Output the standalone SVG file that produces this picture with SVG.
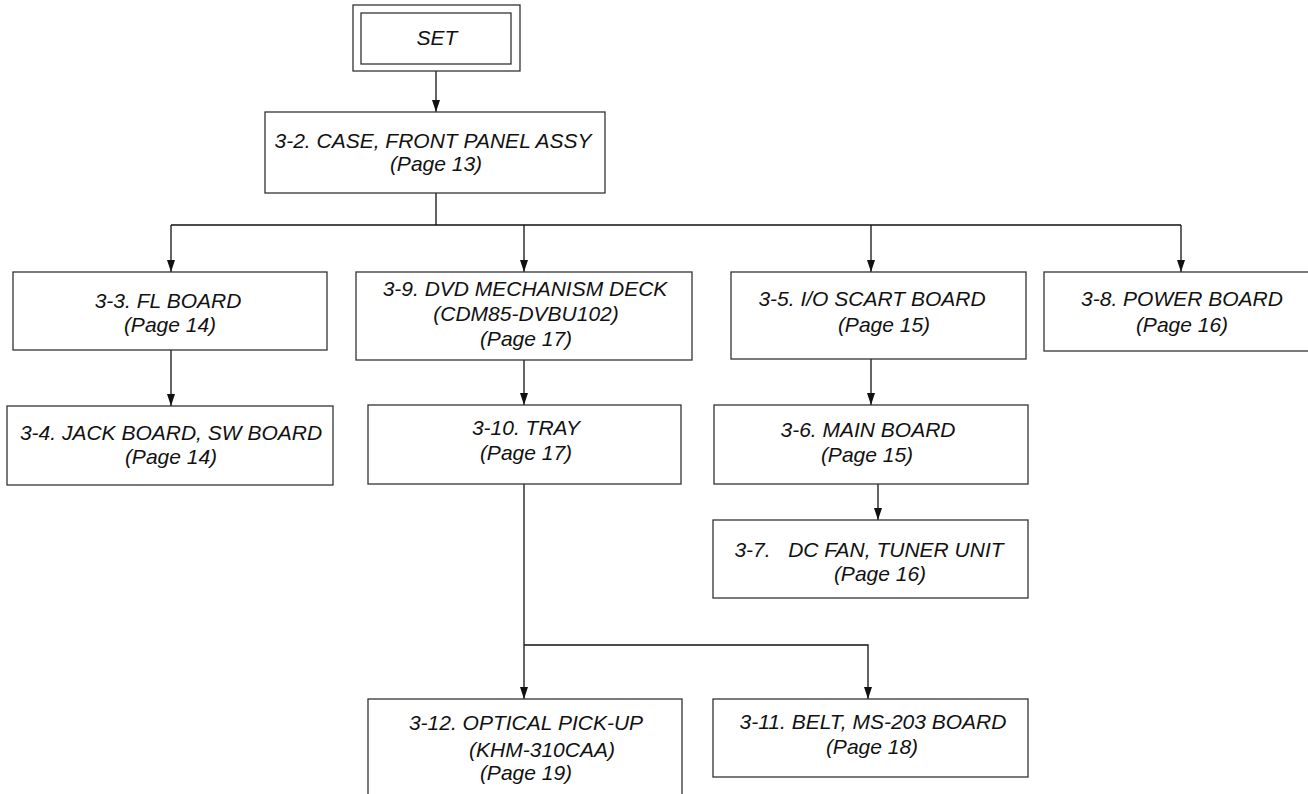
<svg xmlns="http://www.w3.org/2000/svg" width="1308" height="794" viewBox="0 0 1308 794">
<style>
.box{fill:#fff;stroke:#333;stroke-width:1.3}
.t{font-family:"Liberation Sans",Arial,sans-serif;font-style:italic;font-size:21px;fill:#111;text-anchor:middle}
.c{fill:none;stroke:#111;stroke-width:1.3}
</style>
<defs>
<marker id="ah" viewBox="0 0 12 8" refX="12" refY="4" markerWidth="12" markerHeight="8" markerUnits="userSpaceOnUse" orient="auto">
<path d="M0,0 L12,4 L0,8 z" fill="#111"/>
</marker>
</defs>
<rect width="1308" height="794" fill="#fff"/>
<g id="connectors">
<path class="c" d="M436,71 V112" marker-end="url(#ah)"/>
<path class="c" d="M436,193 V225 M171,225 H1181"/>
<path class="c" d="M171,225 V272" marker-end="url(#ah)"/>
<path class="c" d="M524,225 V272" marker-end="url(#ah)"/>
<path class="c" d="M871,225 V272" marker-end="url(#ah)"/>
<path class="c" d="M1181,225 V272" marker-end="url(#ah)"/>
<path class="c" d="M171,350 V406" marker-end="url(#ah)"/>
<path class="c" d="M524,360 V405" marker-end="url(#ah)"/>
<path class="c" d="M871,359 V405" marker-end="url(#ah)"/>
<path class="c" d="M878,484 V520" marker-end="url(#ah)"/>
<path class="c" d="M524,484 V699" marker-end="url(#ah)"/>
<path class="c" d="M524,645 H868 V699" marker-end="url(#ah)"/>
</g>
<g id="set">
<rect class="box" x="353" y="5" width="167" height="66"/>
<rect class="box" x="361" y="13" width="150" height="51"/>
<text class="t" x="437" y="45">SET</text>
</g>
<g id="case">
<rect class="box" x="265" y="112" width="340" height="81"/>
<text class="t" x="433" y="148">3-2. CASE, FRONT PANEL ASSY</text>
<text class="t" x="436" y="171">(Page 13)</text>
</g>
<g id="fl">
<rect class="box" x="13" y="272" width="314" height="78"/>
<text class="t" x="168" y="308">3-3. FL BOARD</text>
<text class="t" x="170" y="332">(Page 14)</text>
</g>
<g id="jack">
<rect class="box" x="7" y="406" width="326" height="79"/>
<text class="t" x="171" y="440">3-4. JACK BOARD, SW BOARD</text>
<text class="t" x="171" y="464">(Page 14)</text>
</g>
<g id="dvd">
<rect class="box" x="356" y="272" width="336" height="88"/>
<text class="t" x="525" y="296">3-9. DVD MECHANISM DECK</text>
<text class="t" x="526" y="321">(CDM85-DVBU102)</text>
<text class="t" x="526" y="346">(Page 17)</text>
</g>
<g id="tray">
<rect class="box" x="368" y="405" width="313" height="79"/>
<text class="t" x="526" y="435">3-10. TRAY</text>
<text class="t" x="526" y="460">(Page 17)</text>
</g>
<g id="io">
<rect class="box" x="731" y="272" width="295" height="87"/>
<text class="t" x="872" y="306">3-5. I/O SCART BOARD</text>
<text class="t" x="884" y="332">(Page 15)</text>
</g>
<g id="power">
<rect class="box" x="1044" y="272" width="270" height="79"/>
<text class="t" x="1182" y="306">3-8. POWER BOARD</text>
<text class="t" x="1182" y="332">(Page 16)</text>
</g>
<g id="main">
<rect class="box" x="714" y="405" width="314" height="79"/>
<text class="t" x="868" y="437">3-6. MAIN BOARD</text>
<text class="t" x="867" y="462">(Page 15)</text>
</g>
<g id="dcfan">
<rect class="box" x="713" y="520" width="315" height="78"/>
<text class="t" x="869" y="557" xml:space="preserve">3-7.   DC FAN, TUNER UNIT</text>
<text class="t" x="880" y="581">(Page 16)</text>
</g>
<g id="optical">
<rect class="box" x="368" y="699" width="314" height="110"/>
<text class="t" x="526" y="730">3-12. OPTICAL PICK-UP</text>
<text class="t" x="542" y="757">(KHM-310CAA)</text>
<text class="t" x="526" y="780">(Page 19)</text>
</g>
<g id="belt">
<rect class="box" x="713" y="699" width="315" height="78"/>
<text class="t" x="873" y="729">3-11. BELT, MS-203 BOARD</text>
<text class="t" x="872" y="754">(Page 18)</text>
</g>
</svg>
